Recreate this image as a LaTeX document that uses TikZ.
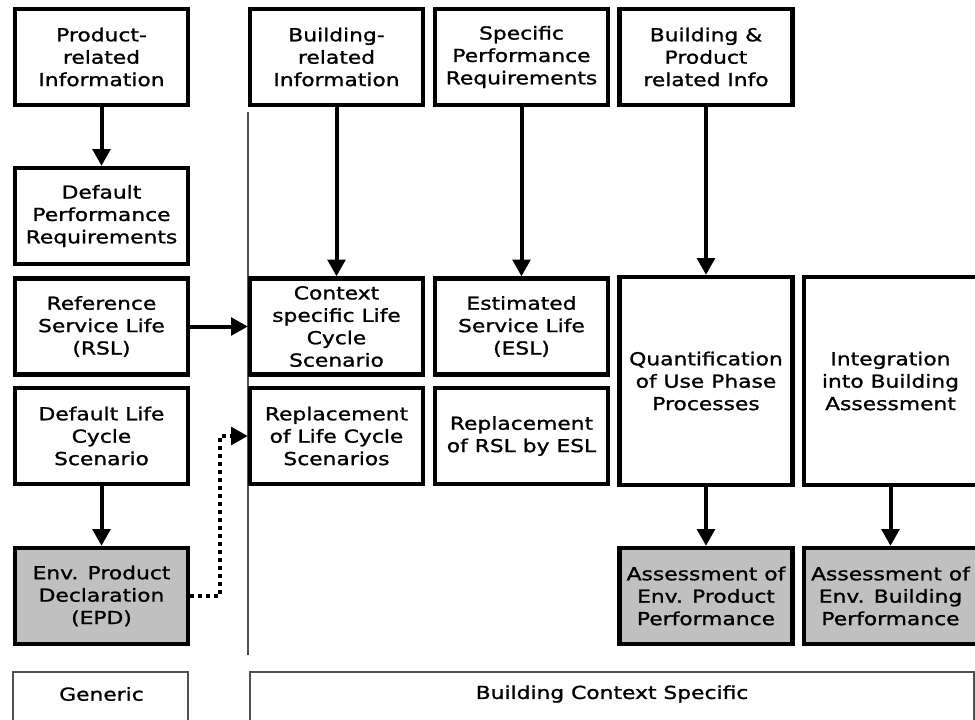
\documentclass[tikz,border=0pt]{standalone}
\usepackage{fontspec}
\setmainfont{DejaVu Sans}[FakeStretch=1.22,FakeBold=1.2]
\usetikzlibrary{arrows.meta}
\definecolor{boxgray}{RGB}{192,192,192}
\definecolor{rulegray}{RGB}{80,80,80}
% column centres (px)
\newcommand{\colgen}{101.5}
\newcommand{\colbld}{336.5}
\newcommand{\colspec}{521.5}
\newcommand{\coluse}{706}
\newcommand{\colint}{890.5}
% row centres (px)
\newcommand{\rowinfo}{57}
\newcommand{\rowdef}{216}
\newcommand{\rowlife}{326.5}
\newcommand{\rowrepl}{436}
\newcommand{\rowres}{596}
\newcommand{\rowtall}{381}
\newcommand{\rowfoot}{694}
% path sizes of the boxes
\newcommand{\boxwd}{129.75pt}
\newcommand{\boxht}{72pt}
\newcommand{\tallht}{156pt}
\newcommand{\dotx}{220}

\begin{document}
\begin{tikzpicture}[x=0.75pt,y=-0.75pt,
    font=\fontsize{13.4}{16.8}\selectfont,
    infobox/.style={draw,line width=3.2pt,fill=white,align=center,
      minimum width=\boxwd,minimum height=\boxht,inner sep=0pt},
    resultbox/.style={infobox,fill=boxgray},
    flowarrow/.style={line width=3pt,-{Triangle[length=12.5pt,width=13pt]}},
    linkarrow/.style={flowarrow,dash pattern=on 3pt off 3pt},
    scopeline/.style={draw=rulegray,line width=1.5pt}]
    \useasboundingbox (0,0) rectangle (975,719);

    % separator between generic and context specific
    \draw[scopeline] (248,112) -- (248,655);

    % generic (product) column
    \node[infobox] (prodinfo) at (\colgen,\rowinfo) {Product-\\related\\Information};
    \node[infobox] (defperf) at (\colgen,\rowdef) {Default\\Performance\\Requirements};
    \node[infobox] (rsl) at (\colgen,\rowlife) {Reference\\Service Life\\(RSL)};
    \node[infobox] (defscen) at (\colgen,\rowrepl) {Default Life\\Cycle\\Scenario};
    \node[resultbox] (epd) at (\colgen,\rowres) {Env. Product\\Declaration\\(EPD)};

    % building context column
    \node[infobox] (bldinfo) at (\colbld,\rowinfo) {Building-\\related\\Information};
    \node[infobox] (ctxscen) at (\colbld,\rowlife) {Context\\specific Life\\Cycle\\Scenario};
    \node[infobox] (replscen) at (\colbld,\rowrepl) {Replacement\\of Life Cycle\\Scenarios};

    % service life column
    \node[infobox] (specperf) at (\colspec,\rowinfo) {Specific\\Performance\\Requirements};
    \node[infobox] (esl) at (\colspec,\rowlife) {Estimated\\Service Life\\(ESL)};
    \node[infobox] (replrsl) at (\colspec,\rowrepl) {Replacement\\of RSL by ESL};

    % use phase column
    \node[infobox] (bpinfo) at (\coluse,\rowinfo) {Building \&\\Product\\related Info};
    \node[infobox,minimum height=\tallht] (usephase) at (\coluse,\rowtall)
      {Quantification\\of Use Phase\\Processes};
    \node[resultbox] (prodperf) at (\coluse,\rowres) {Assessment of\\Env. Product\\Performance};

    % building assessment column
    \node[infobox,minimum height=\tallht] (integr) at (\colint,\rowtall)
      {Integration\\into Building\\Assessment};
    \node[resultbox] (bldperf) at (\colint,\rowres) {Assessment of\\Env. Building\\Performance};

    % flows
    \draw[flowarrow] (prodinfo) -- (defperf);
    \draw[flowarrow] (defscen) -- (epd);
    \draw[flowarrow] (rsl) -- (ctxscen);
    \draw[flowarrow] (bldinfo) -- (ctxscen);
    \draw[flowarrow] (specperf) -- (esl);
    \draw[flowarrow] (bpinfo) -- (usephase);
    \draw[flowarrow] (usephase) -- (prodperf);
    \draw[flowarrow] (integr) -- (bldperf);
    \draw[linkarrow] (epd.east) -| (\dotx,\rowrepl) -- (replscen.west);

    % scope labels
    \node (generic) at (\colgen,\rowfoot) {Generic};
    \draw[scopeline] (13,740) |- (188,672) -- (188,740);
    \node (ctxspec) at (612,\rowfoot) {Building Context Specific};
    \draw[scopeline] (250,740) |- (974,672) -- (974,740);
\end{tikzpicture}
\end{document}
